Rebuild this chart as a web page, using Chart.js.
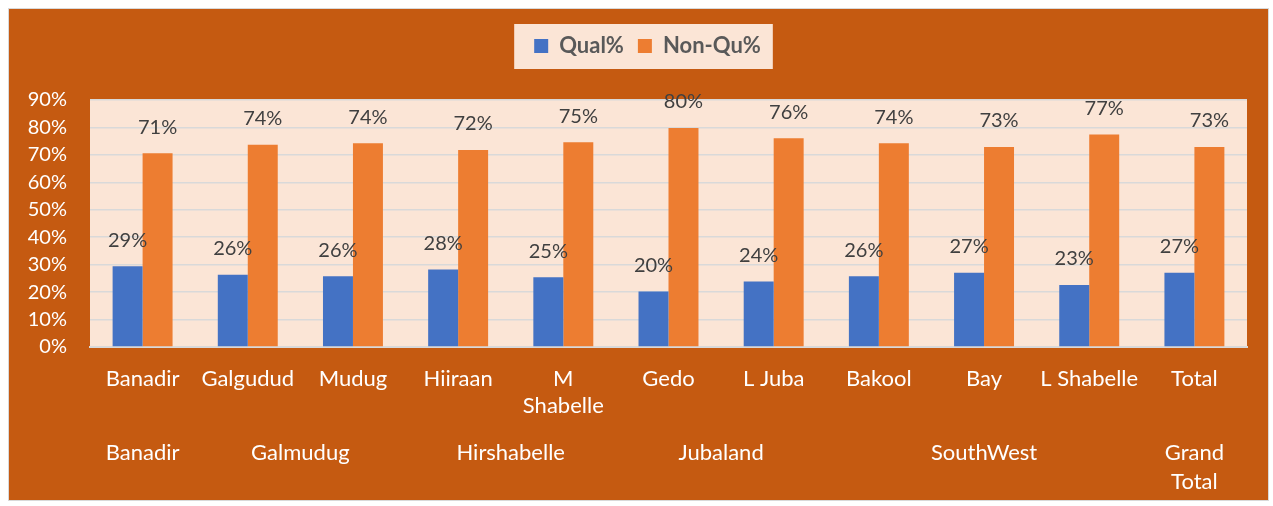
<!DOCTYPE html>
<html>
<head>
<meta charset="utf-8">
<script src="https://cdn.jsdelivr.net/npm/chart.js@4.4.1/dist/chart.umd.min.js"></script>
<style>
  html, body { margin: 0; padding: 0; background: #ffffff; }
  #frame {
    position: absolute; left: 8px; top: 8px; width: 1259px; height: 491px;
    background: #C55A11; border: 1px solid #D9D9D9;
  }
  #chart { position: absolute; left: 0; top: 0; }
</style>
</head>
<body>
<div id="frame"></div>
<canvas id="chart" width="1273" height="506"></canvas>
<script>
// Districts (first axis row) and their state groupings (second row)
const categories = ['Banadir', 'Galgudud', 'Mudug', 'Hiiraan', ['M', 'Shabelle'], 'Gedo', 'L Juba', 'Bakool', 'Bay', 'L Shabelle', 'Total'];
const qualPct    = [29.4, 26.3, 25.8, 28.2, 25.4, 20.2, 23.9, 25.8, 27.1, 22.6, 27.1];
const nonQualPct = [70.6, 73.7, 74.2, 71.8, 74.6, 79.8, 76.1, 74.2, 72.9, 77.4, 72.9];
const groupLabels = ['Banadir', 'Galmudug', 'Hirshabelle', 'Jubaland', 'SouthWest', ['Grand', 'Total']];
const groupStart  = [0, 1, 3, 5, 7, 10];
const groupEnd    = [0, 2, 4, 6, 9, 10];
const yTicks = [0, 10, 20, 30, 40, 50, 60, 70, 80, 90];

const FONT = 'Lato, "Open Sans", sans-serif';

// Extra room between the legend and the plot, and a small nudge to the right
const legendPlacement = {
  id: 'legendPlacement',
  afterInit(chart) {
    const lg = chart.legend;
    if (!lg) return;
    const fit = lg.fit;
    lg.fit = function () { fit.call(this); this.height += 33; };
  },
  afterLayout(chart) {
    const lg = chart.legend;
    if (!lg) return;
    lg.left += 14;
    lg.right += 14;
  }
};

// Light fill behind the plot area and behind the legend
const backgrounds = {
  id: 'backgrounds',
  beforeDraw(chart) {
    const { ctx, chartArea: a, legend } = chart;
    ctx.save();
    ctx.fillStyle = '#FBE5D6';
    ctx.fillRect(a.left, a.top, a.right - a.left, a.bottom - a.top);
    if (legend && legend.legendHitBoxes && legend.legendHitBoxes.length) {
      const hb = legend.legendHitBoxes;
      const minX = Math.min(...hb.map(h => h.left));
      const maxX = Math.max(...hb.map(h => h.left + h.width));
      const cy = hb[0].top + hb[0].height / 2;
      ctx.fillRect(minX - 20, cy - 22, (maxX - minX) + 32, 45);
    }
    ctx.restore();
  }
};

// Percentage labels above each bar
const valueLabels = {
  id: 'valueLabels',
  afterDatasetsDraw(chart) {
    const { ctx } = chart;
    ctx.save();
    ctx.font = '20px ' + FONT;
    ctx.fillStyle = '#404040';
    ctx.textAlign = 'center';
    ctx.textBaseline = 'middle';
    chart.data.datasets.forEach((ds, di) => {
      const meta = chart.getDatasetMeta(di);
      meta.data.forEach((bar, i) => {
        ctx.fillText(Math.round(ds.data[i]) + '%', bar.x, bar.y - 26);
      });
    });
    ctx.restore();
  }
};

// Second row of the category axis: state groups
const groupRow = {
  id: 'groupRow',
  afterDraw(chart) {
    const { ctx, chartArea: a } = chart;
    const x = chart.scales.x;
    ctx.save();
    ctx.font = '22px ' + FONT;
    ctx.fillStyle = '#FFFFFF';
    ctx.textAlign = 'center';
    ctx.textBaseline = 'middle';
    groupLabels.forEach((lab, g) => {
      const cx = (x.getPixelForValue(groupStart[g]) + x.getPixelForValue(groupEnd[g])) / 2;
      const lines = Array.isArray(lab) ? lab : [lab];
      lines.forEach((ln, k) => ctx.fillText(ln, cx, a.bottom + 106 + k * 29));
    });
    ctx.restore();
  }
};

new Chart(document.getElementById('chart'), {
  type: 'bar',
  data: {
    labels: categories,
    datasets: [
      { label: 'Qual%', data: qualPct, backgroundColor: '#4472C4' },
      { label: 'Non-Qu%', data: nonQualPct, backgroundColor: '#ED7D31' }
    ]
  },
  options: {
    responsive: false,
    animation: false,
    devicePixelRatio: 1,
    layout: { padding: { left: 20, right: 26, top: 21, bottom: 9 } },
    datasets: { bar: { barPercentage: 1.0, categoryPercentage: 0.57 } },
    plugins: {
      tooltip: { enabled: false },
      legend: {
        position: 'top',
        labels: {
          color: '#595959',
          font: { family: FONT, size: 22, weight: 'bold' },
          boxWidth: 14, boxHeight: 14, padding: 14
        }
      }
    },
    scales: {
      x: {
        grid: { display: false },
        border: { display: true, color: '#D9D9D9', width: 2 },
        ticks: {
          color: '#FFFFFF', font: { family: FONT, size: 22, lineHeight: 1.23 },
          padding: 10, maxRotation: 0, autoSkip: false
        },
        afterFit(s) { s.height = 150; }
      },
      y: {
        min: 0, max: 90,
        afterBuildTicks(s) { s.ticks = yTicks.map(v => ({ value: v })); },
        grid: { color: '#D9D9D9', lineWidth: 1.5, drawTicks: false },
        border: { display: false },
        ticks: {
          color: '#FFFFFF', font: { family: FONT, size: 20 }, padding: 23,
          callback: v => v + '%'
        },
        afterFit(s) { s.width = 70; }
      }
    }
  },
  plugins: [legendPlacement, backgrounds, valueLabels, groupRow]
});
</script>
</body>
</html>
